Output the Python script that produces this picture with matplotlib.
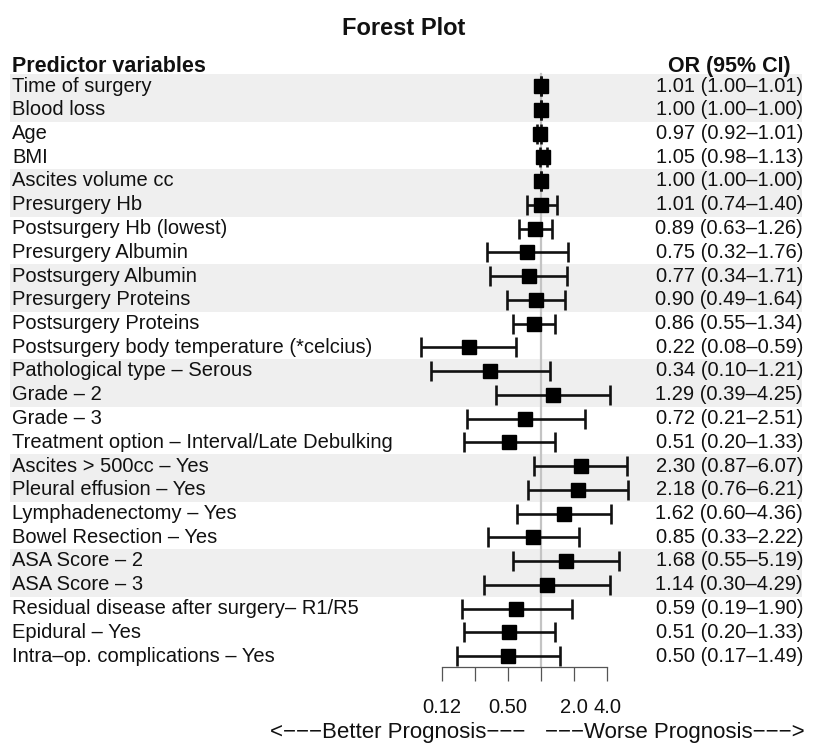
import matplotlib
matplotlib.use("Agg")
import matplotlib.pyplot as plt
import matplotlib.transforms as mtransforms
import numpy as np

labels = [
    "Time of surgery", "Blood loss", "Age", "BMI", "Ascites volume cc",
    "Presurgery Hb", "Postsurgery Hb (lowest)", "Presurgery Albumin",
    "Postsurgery Albumin", "Presurgery Proteins", "Postsurgery Proteins",
    "Postsurgery body temperature (*celcius)", "Pathological type \u2013 Serous",
    "Grade \u2013 2", "Grade \u2013 3", "Treatment option \u2013 Interval/Late Debulking",
    "Ascites > 500cc \u2013 Yes", "Pleural effusion \u2013 Yes", "Lymphadenectomy \u2013 Yes",
    "Bowel Resection \u2013 Yes", "ASA Score \u2013 2", "ASA Score \u2013 3",
    "Residual disease after surgery\u2013 R1/R5", "Epidural \u2013 Yes",
    "Intra\u2013op. complications \u2013 Yes",
]
or_vals = [1.01, 1.00, 0.97, 1.05, 1.00, 1.01, 0.89, 0.75, 0.77, 0.90, 0.86, 0.22, 0.34,
           1.29, 0.72, 0.51, 2.30, 2.18, 1.62, 0.85, 1.68, 1.14, 0.59, 0.51, 0.50]
ci_lo = [1.00, 1.00, 0.92, 0.98, 1.00, 0.74, 0.63, 0.32, 0.34, 0.49, 0.55, 0.08, 0.10,
         0.39, 0.21, 0.20, 0.87, 0.76, 0.60, 0.33, 0.55, 0.30, 0.19, 0.20, 0.17]
ci_hi = [1.01, 1.00, 1.01, 1.13, 1.00, 1.40, 1.26, 1.76, 1.71, 1.64, 1.34, 0.59, 1.21,
         4.25, 2.51, 1.33, 6.07, 6.21, 4.36, 2.22, 5.19, 4.29, 1.90, 1.33, 1.49]
tick_vals = [0.125, 0.25, 0.5, 1, 2, 4]
tick_labels = ["0.12", "", "0.50", "", "2.0", "4.0"]

W, H = 834, 749
fig = plt.figure(figsize=(W / 100, H / 100), dpi=100)
FONT = "Liberation Sans"
plt.rcParams["font.family"] = [FONT, "DejaVu Sans"]

def fx(px):
    return px / W

def fy(py):
    return 1 - py / H

# axes spans pixel x 10..802, y 40..667
ax_left, ax_right, ax_top, ax_bot = 10, 802, 40, 667
ax = fig.add_axes([fx(ax_left), fy(ax_bot), (ax_right - ax_left) / W, (ax_bot - ax_top) / H])
x1_px, dec_px = 541.0, 33.0
ax.set_xscale("log", base=2)
ax.set_xlim(2 ** ((ax_left - x1_px) / dec_px), 2 ** ((ax_right - x1_px) / dec_px))
row0_px, row_step = 86.0, 23.75
ax.set_ylim((ax_bot - row0_px) / row_step, (ax_top - row0_px) / row_step)
ax.patch.set_alpha(0)

n = len(labels)
rows = np.arange(n)
for i in rows:
    if i % 4 < 2 and i < n - 3:
        ax.axhspan(i - 0.5, i + 0.5, color="#efefef", lw=0, zorder=0)

ax.plot([1, 1], [-0.5, (ax_bot - row0_px) / row_step], color="#c4c4c4", lw=1.6, zorder=1)

or_arr = np.array(or_vals)
err = np.vstack([or_arr - np.array(ci_lo), np.array(ci_hi) - or_arr])
ax.errorbar(or_arr, rows, xerr=err, fmt="s", color="#111111", ms=9.6, mfc="black",
            mec="black", elinewidth=1.9, capsize=7.5, capthick=1.9, zorder=3)

for s in ["top", "right", "left"]:
    ax.spines[s].set_visible(False)
ax.spines["bottom"].set_bounds(tick_vals[0], tick_vals[-1])
ax.spines["bottom"].set_color("#555555")
ax.spines["bottom"].set_linewidth(0.9)
ax.set_yticks([])
ax.set_xticks(tick_vals)
ax.set_xticklabels(tick_labels)
ax.minorticks_off()
ax.tick_params(axis="x", length=10, width=0.9, color="#555555", pad=12,
               labelsize=14.5, labelcolor="#111111")

trans = mtransforms.blended_transform_factory(fig.transFigure, ax.transData)
for i, (lab, o, lo, hi) in enumerate(zip(labels, or_vals, ci_lo, ci_hi)):
    ax.text(fx(12), i, lab, transform=trans, ha="left", va="center", fontsize=14.5,
            color="#111111")
    ax.text(fx(803), i, f"{o:.2f} ({lo:.2f}\u2013{hi:.2f})", transform=trans,
            ha="right", va="center", fontsize=14.5, color="#111111")

hy = -0.84
ax.text(fx(12), hy, "Predictor variables", transform=trans, ha="left", va="center",
        fontsize=15.5, fontweight="bold", color="#111111")
ax.text(fx(729), hy, "OR (95% CI)", transform=trans, ha="center", va="center",
        fontsize=15.5, fontweight="bold", color="#111111")

fig.text(fx(404), fy(35), "Forest Plot", ha="center", va="baseline", fontsize=17,
         fontweight="bold", color="#111111")
fig.text(fx(525), fy(738), "<\u2212\u2212\u2212Better Prognosis\u2212\u2212\u2212",
         ha="right", va="baseline", fontsize=16, color="#111111")
fig.text(fx(545), fy(738), "\u2212\u2212\u2212Worse Prognosis\u2212\u2212\u2212>",
         ha="left", va="baseline", fontsize=16, color="#111111")

fig.savefig("out.png", dpi=100)
